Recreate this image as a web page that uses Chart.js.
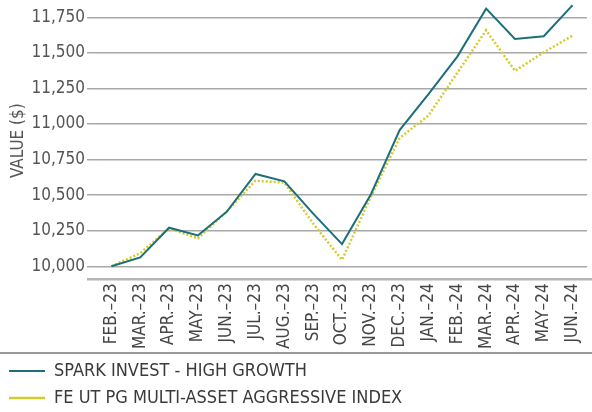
<!DOCTYPE html>
<html>
<head>
<meta charset="utf-8">
<script src="https://cdn.jsdelivr.net/npm/chart.js@4/dist/chart.umd.min.js"></script>
<style>
  html, body { margin: 0; padding: 0; background: #fff; }
  #wrap { width: 592px; height: 412px; position: relative; }
</style>
</head>
<body>
<div id="wrap"><canvas id="c"></canvas></div>
<script>
const categories = ['FEB.–23','MAR.–23','APR.–23','MAY–23','JUN.–23','JUL.–23','AUG.–23','SEP.–23','OCT.–23','NOV.–23','DEC.–23','JAN.–24','FEB.–24','MAR.–24','APR.–24','MAY–24','JUN.–24'];
const sparkValues = [10000, 10062, 10271, 10217, 10383, 10649, 10597, 10370, 10156, 10505, 10958, 11210, 11474, 11811, 11598, 11617, 11836];
const indexValues = [10000, 10092, 10266, 10196, 10385, 10602, 10588, 10300, 10045, 10488, 10902, 11060, 11360, 11659, 11374, 11504, 11622];
const seriesNames = ['SPARK INVEST - HIGH GROWTH', 'FE UT PG MULTI-ASSET AGGRESSIVE INDEX'];
const yTicks = [10000, 10250, 10500, 10750, 11000, 11250, 11500, 11750];

const FONT = "'DejaVu Sans Condensed', 'DejaVu Sans', sans-serif";

const decor = {
  id: 'decor',
  afterDraw(chart) {
    const ctx = chart.ctx;
    const ca = chart.chartArea;
    ctx.save();
    ctx.strokeStyle = '#b4b4b4';
    ctx.lineWidth = 2.5;
    ctx.beginPath();
    ctx.moveTo(ca.left - 10, ca.bottom);
    ctx.lineTo(chart.width, ca.bottom);
    ctx.stroke();
    const lg = chart.legend;
    ctx.strokeStyle = '#7a7a7a';
    ctx.lineWidth = 1.5;
    ctx.beginPath();
    ctx.moveTo(0, lg.top);
    ctx.lineTo(chart.width, lg.top);
    ctx.stroke();
    ctx.restore();
  }
};

new Chart(document.getElementById('c'), {
  type: 'line',
  data: {
    labels: categories,
    datasets: [
      {
        label: seriesNames[0],
        data: sparkValues,
        borderColor: '#1d6f7b',
        backgroundColor: '#1d6f7b',
        borderWidth: 2,
        pointRadius: 0,
        tension: 0
      },
      {
        label: seriesNames[1],
        data: indexValues,
        borderColor: '#d2cc2c',
        backgroundColor: '#d2cc2c',
        borderWidth: 2.5,
        borderDash: [2, 2],
        pointRadius: 0,
        tension: 0
      }
    ]
  },
  options: {
    responsive: true,
    maintainAspectRatio: false,
    animation: false,
    layout: { padding: { top: 2, left: 0, right: 5, bottom: -5 } },
    plugins: {
      tooltip: { enabled: false },
      legend: {
        position: 'bottom',
        align: 'start',
        labels: {
          usePointStyle: true,
          pointStyle: 'line',
          pointStyleWidth: 36,
          boxHeight: 18,
          padding: 9,
          color: '#3a3a3a',
          font: { family: FONT, size: 18 }
        }
      }
    },
    scales: {
      x: {
        offset: true,
        afterFit: (axis) => { axis.paddingRight = 0; axis.paddingLeft = 0; },
        grid: { display: false, drawTicks: false },
        border: { display: false },
        ticks: {
          autoSkip: false,
          maxRotation: 90,
          minRotation: 90,
          padding: 4,
          color: '#454545',
          font: { family: FONT, size: 17 }
        }
      },
      y: {
        min: 9908,
        max: 11858,
        afterBuildTicks: (axis) => {
          axis.ticks = yTicks.map(v => ({ value: v }));
        },
        afterFit: (axis) => { axis.width = 97; axis.paddingTop = 0; axis.paddingBottom = 0; },
        ticks: {
          padding: 2,
          color: '#555',
          font: { family: FONT, size: 17 },
          callback: (v) => Number(v).toLocaleString('en-US')
        },
        grid: { color: '#a8a8a8', lineWidth: 1.5, tickLength: 10 },
        border: { display: false },
        title: {
          display: true,
          text: 'VALUE ($)',
          color: '#555',
          font: { family: FONT, size: 17 },
          padding: { top: 8, bottom: 2 }
        }
      }
    }
  },
  plugins: [decor]
});
</script>
</body>
</html>
